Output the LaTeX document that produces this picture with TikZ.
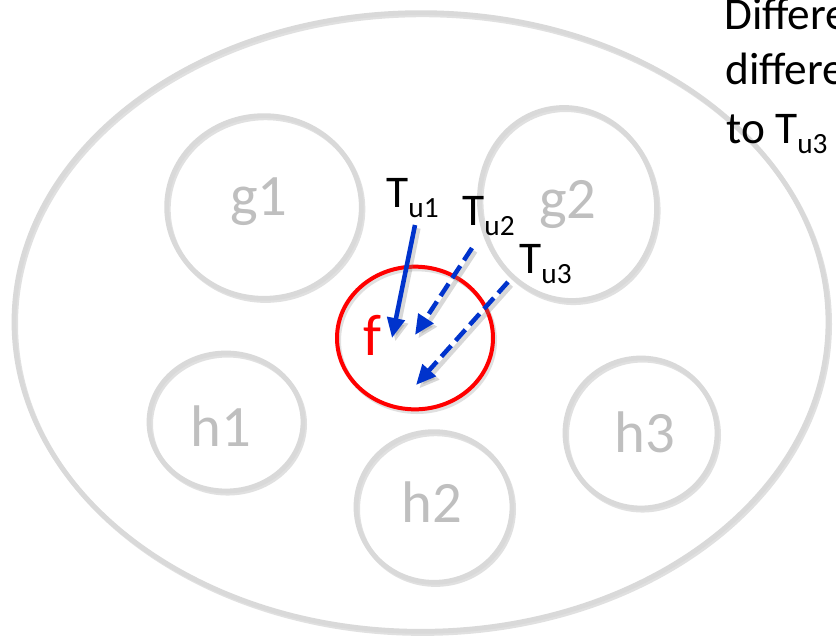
\documentclass[tikz,border=0pt]{standalone}
\usepackage{fontspec}
\setmainfont{Carlito}
\usetikzlibrary{shapes.geometric,arrows.meta}
\definecolor{ringgray}{HTML}{D9D9D9}
\definecolor{labgray}{HTML}{BFBFBF}
\definecolor{arrblue}{HTML}{0033CC}
\definecolor{fred}{HTML}{FF0000}
\newcommand{\mysub}[1]{\raisebox{-7.5pt}{\fontsize{22}{22}\selectfont #1}}
\tikzset{
  ring/.style={ellipse, draw=ringgray, line width=3.6pt, inner sep=0pt,
    preaction={draw=black!40, opacity=0.3, line width=3.6pt,
      transform canvas={shift={(1.2pt,-1.6pt)}}}},
  fring/.style={ellipse, draw=fred, line width=3pt, inner sep=0pt,
    preaction={draw=black!40, opacity=0.3, line width=3pt,
      transform canvas={shift={(1.5pt,-2pt)}}}},
  biglab/.style={anchor=base, inner sep=0pt, font=\fontsize{44}{50}\selectfont, text=labgray},
  tlab/.style={anchor=base west, inner sep=0pt, font=\fontsize{34}{40}\selectfont, text=black},
  tarrow/.style={draw=arrblue, line width=3.4pt, -{Triangle[length=15pt,width=13pt]},
    preaction={draw=black!50, opacity=0.3, line width=3.4pt,
      transform canvas={shift={(2.5pt,-2.5pt)}}}},
  dashedarrow/.style={tarrow, dash pattern=on 11pt off 5pt}
}
\begin{document}
\begin{tikzpicture}[x=0.75pt,y=-0.75pt]
\useasboundingbox (0,0) rectangle (836,643);
\clip (0,0) rectangle (836,643);
\fill[white] (0,0) rectangle (836,643);
% outer ellipse
\node[ring, minimum width=610.5pt, minimum height=464pt] (outer) at (421,322) {};
% inner circles
\node[ring, minimum width=146pt, minimum height=137pt] (g1) at (264,207) {};
\node[ring, minimum width=132pt, minimum height=145.5pt, rotate=14] (g2) at (568,204) {};
\node[ring, minimum width=115.5pt, minimum height=103.5pt] (h1) at (226,422) {};
\node[ring, minimum width=117pt, minimum height=113pt] (h2) at (434,507) {};
\node[ring, minimum width=114pt, minimum height=112.5pt] (h3) at (641,433) {};
\node[fring, minimum width=117pt, minimum height=107pt] (f) at (415,338) {};
% labels
\node[biglab] (g1t) at (259,215) {g1};
\node[biglab] (g2t) at (568,218) {g2};
\node[biglab] (h1t) at (221,446) {h1};
\node[biglab] (h2t) at (432,522) {h2};
\node[biglab] (h3t) at (645,452) {h3};
\node[biglab, text=fred] (ft) at (372,355) {f};
% T labels
\node[tlab] (tu1) at (386,207) {T\mysub{u1}};
\node[tlab] (tu2) at (462,225) {T\mysub{u2}};
\node[tlab] (tu3) at (519,273) {T\mysub{u3}};
% arrows
\coordinate (s1) at (415,225); \coordinate (e1) at (392,338);
\coordinate (s2) at (472,248); \coordinate (e2) at (415,335);
\coordinate (s3) at (508,282); \coordinate (e3) at (416,385);
\draw[tarrow] (s1) -- (e1);
\draw[dashedarrow] (s2) -- (e2);
\draw[dashedarrow] (s3) -- (e3);
% top-right text
\node[tlab] (txt1) at (724,29) {Differe};
\node[tlab] (txt2) at (725,84) {differe};
\node[tlab] (txt3) at (726,143) {to T\mysub{u3}};
\end{tikzpicture}
\end{document}
